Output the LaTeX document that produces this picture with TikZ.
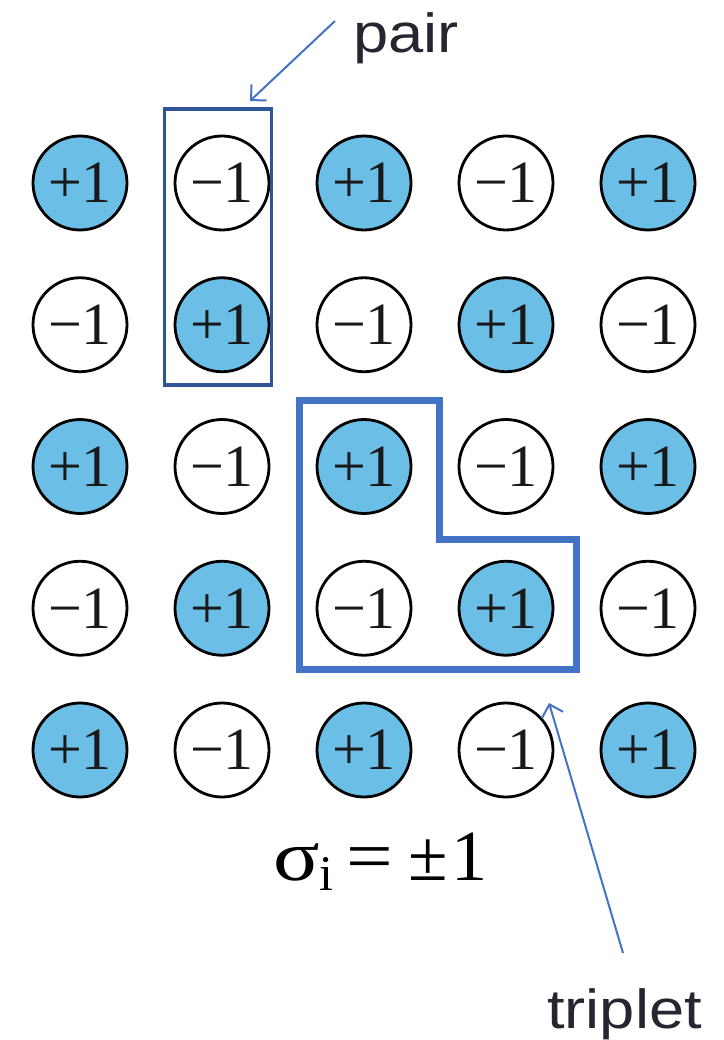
\documentclass[tikz,border=0pt]{standalone}
\usepackage{fontspec}
\setmainfont{Liberation Serif}
\newfontfamily\lblsans[FakeStretch=1.15]{Liberation Sans}
\usetikzlibrary{arrows.meta}
\definecolor{spinblue}{RGB}{107,191,230}
\definecolor{pairblue}{RGB}{47,85,151}
\definecolor{tripblue}{RGB}{68,114,196}
\definecolor{labelgray}{RGB}{38,38,48}
\begin{document}
\begin{tikzpicture}[x=1pt,y=-1pt,
  spin/.style={circle, draw=black, line width=2.8pt, minimum size=94pt, inner sep=0pt,
    font=\fontsize{60}{60}\selectfont, text=black!90},
  upspin/.style={spin, fill=spinblue},
  downspin/.style={spin, fill=white},
  callout/.style={draw=tripblue, line width=2pt, -{Straight Barb[length=11pt,width=22pt]}},
  tag/.style={font=\lblsans\fontsize{55}{55}\selectfont, text=labelgray, inner sep=0pt, anchor=base west}]
\useasboundingbox (0,0) rectangle (723,1040);
\fill[white] (0,0) rectangle (723,1040);
% spins
\foreach \j in {1,...,5} {
  \foreach \i in {1,...,5} {
    \pgfmathtruncatemacro\parity{mod(\i+\j,2)}
    \ifnum\parity=0
      \node[upspin] (c\j\i) at ({80+142*(\i-1)},{183+141.75*(\j-1)}) {+1};
    \else
      \node[downspin] (c\j\i) at ({80+142*(\i-1)},{183+141.75*(\j-1)}) {−1};
    \fi
  }
}
% pair box
\node[draw=pairblue, line width=3.5pt, minimum width=107pt, minimum height=276pt, inner sep=0pt] (pairbox) at (217.8,247) {};
% triplet outline
\draw[draw=tripblue, line width=7pt] (299.5,400) -- (439.5,400) -- (439.5,539) -- (576.5,539) -- (576.5,669) -- (299.5,669) -- cycle;
% labels
\node[tag] (pair) at (353,53) {pair};
\node[tag] (triplet) at (547,1028) {triplet};
\coordinate (pairtail) at (335,21);
\coordinate (pairtip) at (250,101);
\coordinate (triptail) at (623,953);
\coordinate (triptip) at (549,703);
\draw[callout] (pairtail) -- (pairtip);
\draw[callout] (triptail) -- (triptip);
% formula
\node[font=\fontsize{72}{72}\selectfont, anchor=base west, inner sep=0pt] (sigma) at (273,880)
  {\scalebox{1.2}[1]{σ}\raisebox{-10pt}{\fontsize{50}{50}\selectfont i}\hspace{13pt}\scalebox{1.15}[1]{=}\hspace{15pt}±\hspace{4pt}1};
\end{tikzpicture}
\end{document}
